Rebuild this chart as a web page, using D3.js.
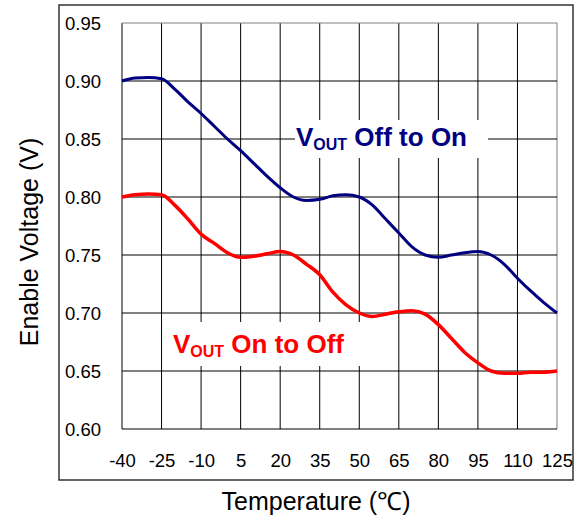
<!DOCTYPE html>
<html>
<head>
<meta charset="utf-8">
<script src="https://cdn.jsdelivr.net/npm/d3@7"></script>
<style>
  body { margin: 0; background: #fff; }
  svg text { font-family: Arial, "Liberation Sans", sans-serif; }
</style>
</head>
<body>
<div id="chart"></div>
<script>
// temperature (°C) every 5 degrees
const temps = d3.range(-40, 126, 5);

// V_OUT off to on threshold (V)
const offToOn = [
  0.900, 0.9025, 0.903, 0.902, 0.893, 0.882, 0.872, 0.861, 0.850, 0.840,
  0.829, 0.818, 0.808, 0.800, 0.797, 0.798, 0.801, 0.802, 0.800, 0.793,
  0.781, 0.769, 0.757, 0.750, 0.748, 0.750, 0.752, 0.753, 0.750, 0.742,
  0.730, 0.719, 0.709, 0.700
];

// V_OUT on to off threshold (V)
const onToOff = [
  0.800, 0.802, 0.8026, 0.802, 0.793, 0.781, 0.768, 0.760, 0.752, 0.748,
  0.749, 0.751, 0.753, 0.750, 0.742, 0.733, 0.718, 0.707, 0.700, 0.697,
  0.699, 0.701, 0.702, 0.699, 0.690, 0.678, 0.666, 0.657, 0.650, 0.648,
  0.648, 0.649, 0.649, 0.650
];

const xTicks = [-40, -25, -10, 5, 20, 35, 50, 65, 80, 95, 110, 125];
const yTicks = [0.60, 0.65, 0.70, 0.75, 0.80, 0.85, 0.90, 0.95];

const W = 581, H = 523;
const plot = { left: 122, top: 23, right: 557, bottom: 429 };

const svg = d3.select("#chart").append("svg")
  .attr("width", W)
  .attr("height", H);

svg.append("rect").attr("width", W).attr("height", H).attr("fill", "#fff");

// outer frame
svg.append("rect")
  .attr("x", 59).attr("y", 5)
  .attr("width", 514).attr("height", 475)
  .attr("fill", "none")
  .attr("stroke", "#333")
  .attr("stroke-width", 1.5);

const x = d3.scaleLinear().domain([-40, 125]).range([plot.left, plot.right]);
const y = d3.scaleLinear().domain([0.60, 0.95]).range([plot.bottom, plot.top]);

// grid
const grid = svg.append("g");
grid.selectAll(".vg")
  .data(xTicks)
  .enter()
  .append("line")
  .attr("x1", d => x(d)).attr("x2", d => x(d))
  .attr("y1", plot.top).attr("y2", plot.bottom)
  .attr("stroke", (d, i) => i === xTicks.length - 1 ? "#808080" : "#000")
  .attr("stroke-width", 1);

grid.selectAll(".hg")
  .data(yTicks)
  .enter()
  .append("line")
  .attr("x1", plot.left).attr("x2", plot.right)
  .attr("y1", d => y(d)).attr("y2", d => y(d))
  .attr("stroke", (d, i) => i === yTicks.length - 1 ? "#808080" : "#000")
  .attr("stroke-width", 1);

// axes labels (no tick marks), plain hyphen for negatives
const xAxis = d3.axisBottom(x).tickValues(xTicks).tickFormat(d => String(d)).tickSize(0).tickPadding(0);
svg.append("g")
  .attr("transform", "translate(0," + plot.bottom + ")")
  .call(xAxis)
  .call(g => g.select(".domain").remove())
  .selectAll("text")
  .attr("dy", null)
  .attr("y", 38)
  .style("font-size", "18.5px")
  .style("font-family", "Arial, 'Liberation Sans', sans-serif")
  .attr("fill", "#000");

const yAxis = d3.axisLeft(y).tickValues(yTicks).tickFormat(d => d.toFixed(2)).tickSize(0).tickPadding(0);
svg.append("g")
  .attr("transform", "translate(" + (plot.left - 21) + ",0)")
  .call(yAxis)
  .call(g => g.select(".domain").remove())
  .selectAll("text")
  .attr("dy", "0.36em")
  .style("font-size", "18.5px")
  .style("font-family", "Arial, 'Liberation Sans', sans-serif")
  .attr("fill", "#000");

// curves
const line = d3.line()
  .x((d, i) => x(temps[i]))
  .y(d => y(d))
  .curve(d3.curveMonotoneX);

svg.append("path")
  .datum(offToOn)
  .attr("d", line)
  .attr("fill", "none")
  .attr("stroke", "#000080")
  .attr("stroke-width", 3);

svg.append("path")
  .datum(onToOff)
  .attr("d", line)
  .attr("fill", "none")
  .attr("stroke", "#ff0000")
  .attr("stroke-width", 3.5);

// series labels on white boxes
function seriesLabel(bx, by, bw, bh, tx, ty, rest, color) {
  svg.append("rect")
    .attr("x", bx).attr("y", by)
    .attr("width", bw).attr("height", bh)
    .attr("fill", "#fff");
  const t = svg.append("text")
    .attr("x", tx).attr("y", ty)
    .attr("fill", color)
    .style("font-weight", "bold")
    .style("font-size", "26px");
  t.append("tspan").text("V");
  t.append("tspan").attr("dy", 4).style("font-size", "16px").text("OUT");
  t.append("tspan").attr("dy", -4).text(" " + rest);
}
seriesLabel(295, 120, 193, 38, 296, 146, "Off to On", "#000080");
seriesLabel(166, 322, 199, 44, 173, 353, "On to Off", "#ff0000");

// axis titles
svg.append("text")
  .attr("x", 316).attr("y", 510)
  .attr("text-anchor", "middle")
  .style("font-size", "25px")
  .text("Temperature (℃)");

svg.append("text")
  .attr("transform", "translate(38,242) rotate(-90)")
  .attr("text-anchor", "middle")
  .style("font-size", "25px")
  .text("Enable Voltage (V)");
</script>
</body>
</html>
